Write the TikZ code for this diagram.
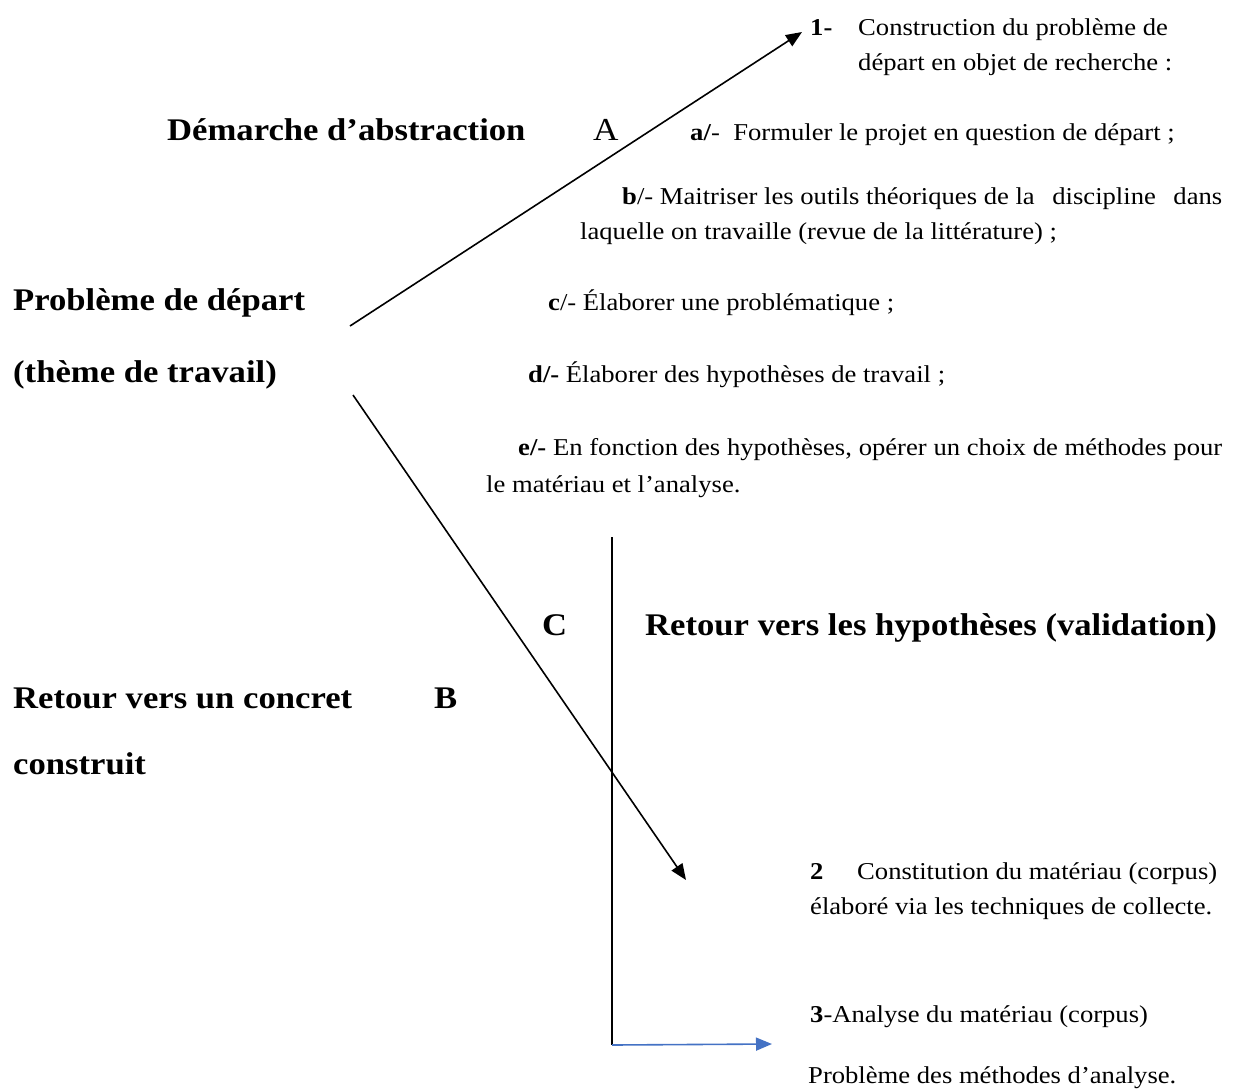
\documentclass[tikz,border=0pt]{standalone}
\usepackage{fontspec}
\setmainfont[FakeStretch=1.1]{Liberation Serif}
\usetikzlibrary{arrows.meta}
\definecolor{arrowblue}{RGB}{68,114,196}
\tikzset{
  txt/.style={anchor=base west,inner sep=0pt,font=\fontsize{24.2}{28}\selectfont},
  head/.style={anchor=base west,inner sep=0pt,font=\fontsize{31.5}{36}\selectfont\bfseries},
  link/.style={line width=1.6pt}
}
\begin{document}
\begin{tikzpicture}[x=1pt,y=-1pt,>={Stealth[length=16pt,width=13pt,inset=0pt]}]
  \useasboundingbox (0,0) rectangle (1234,1088);
  % headings on the left
  \node[head] (dem) at (167,140) {Démarche d’abstraction};
  \node[txt,font=\fontsize{32}{36}\selectfont] (lA) at (593,140) {A};
  \node[head] (pb) at (13,310) {Problème de départ};
  \node[head] (th) at (13,382) {(thème de travail)};
  \node[head] (ret) at (13,708) {Retour vers un concret};
  \node[head] (lB) at (434,708) {B};
  \node[head] (cons) at (13,774) {construit};
  \node[head] (lC) at (542,635) {C};
  \node[head] (hyp) at (645,635) {Retour vers les hypothèses (validation)};
  % steps
  \node[txt] (n1) at (810,35) {\textbf{1-}};
  \node[txt] (s1a) at (858,35) {Construction du problème de};
  \node[txt] (s1b) at (858,70) {départ en objet de recherche :};
  \node[txt] (sa) at (690,140) {\textbf{a/}-\ \ Formuler le projet en question de départ ;};
  \node[txt] (sb1) at (622,204) {\makebox[600pt][l]{\textbf{b}/- Maitriser les outils théoriques de la\hfill discipline\hfill dans}};
  \node[txt] (sb2) at (580,239) {laquelle on travaille (revue de la littérature) ;};
  \node[txt] (sc) at (548,310) {\textbf{c}/- Élaborer une problématique ;};
  \node[txt] (sd) at (528,382) {\textbf{d/-} Élaborer des hypothèses de travail ;};
  \node[txt] (se1) at (518,455) {\makebox[704pt][s]{\textbf{e/-} En fonction des hypothèses, opérer un choix de méthodes pour}};
  \node[txt] (se2) at (486,492) {le matériau et l’analyse.};
  \node[txt] (n2) at (810,879) {\textbf{2}};
  \node[txt] (s2a) at (857,879) {Constitution du matériau (corpus)};
  \node[txt] (s2b) at (810,914) {élaboré via les techniques de collecte.};
  \node[txt] (s3a) at (810,1022) {\textbf{3}-Analyse du matériau (corpus)};
  \node[txt] (s3b) at (808,1083) {Problème des méthodes d’analyse.};
  % connectors
  \coordinate (up0) at (350,326);
  \coordinate (up1) at (802,32);
  \coordinate (dn0) at (353,395);
  \coordinate (dn1) at (686,880);
  \coordinate (v0) at (612,537);
  \coordinate (v1) at (612,1045);
  \coordinate (bl) at (772,1044);
  \draw[link,->] (up0) -- (up1);
  \draw[link,->] (dn0) -- (dn1);
  \draw[link] (v0) -- (v1);
  \draw[link,arrowblue,->] (v1) -- (bl);
\end{tikzpicture}
\end{document}
